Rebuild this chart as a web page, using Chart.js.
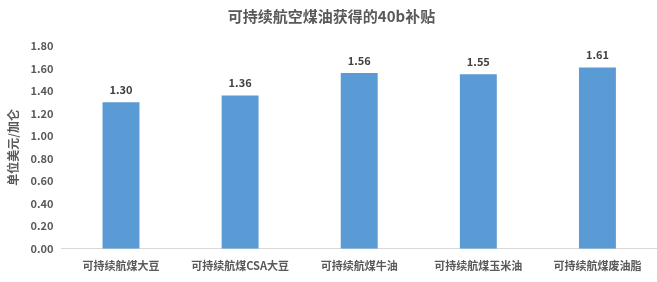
<!DOCTYPE html>
<html>
<head>
<meta charset="utf-8">
<script src="https://cdn.jsdelivr.net/npm/chart.js@4.4.1/dist/chart.umd.min.js"></script>
<style>
  html, body { margin: 0; padding: 0; background: #fff; }
  #wrap { width: 657px; height: 282px; }
</style>
</head>
<body>
<div id="wrap"><canvas id="myChart"></canvas></div>
<script>
// values
var categories = ['可持续航煤大豆', '可持续航煤CSA大豆', '可持续航煤牛油', '可持续航煤玉米油', '可持续航煤废油脂'];
var subsidy = [1.30, 1.36, 1.56, 1.55, 1.61];
var yTicks = [0, 0.2, 0.4, 0.6, 0.8, 1.0, 1.2, 1.4, 1.6, 1.8];

var fontName = '"Noto Sans CJK SC", "Liberation Sans", sans-serif';
var grey = '#595959';

// draws the value above each bar
var valueLabels = {
    id: 'valueLabels',
    afterDatasetsDraw: function(chart) {
        var ctx = chart.ctx;
        var meta = chart.getDatasetMeta(0);
        ctx.save();
        ctx.font = 'bold 11px ' + fontName;
        ctx.fillStyle = '#404040';
        ctx.textAlign = 'center';
        ctx.textBaseline = 'bottom';
        meta.data.forEach(function(bar, i) {
            ctx.fillText(subsidy[i].toFixed(2), bar.x, bar.y - 7);
        });
        ctx.restore();
    }
};

var ctx = document.getElementById('myChart').getContext('2d');
var myChart = new Chart(ctx, {
    type: 'bar',
    data: {
        labels: categories,
        datasets: [{
            label: '补贴',
            data: subsidy,
            backgroundColor: '#5b9bd5',
            borderWidth: 0,
            barPercentage: 0.62,
            categoryPercentage: 0.5
        }]
    },
    options: {
        responsive: true,
        maintainAspectRatio: false,
        animation: false,
        layout: { padding: { left: 6, right: 0, top: 2, bottom: 0 } },
        plugins: {
            legend: { display: false },
            tooltip: { enabled: false },
            title: {
                display: true,
                text: '可持续航空煤油获得的40b补贴',
                color: grey,
                font: { family: fontName, size: 15, weight: 'bold' },
                padding: { top: 5, bottom: 21 }
            }
        },
        scales: {
            x: {
                grid: { display: false, drawTicks: false },
                border: { color: '#d9d9d9', width: 1 },
                ticks: {
                    color: grey,
                    padding: 10,
                    maxRotation: 0,
                    autoSkip: false,
                    font: { family: fontName, size: 11, weight: 'bold' }
                }
            },
            y: {
                min: 0,
                max: 1.8,
                afterBuildTicks: function(axis) {
                    axis.ticks = yTicks.map(function(v) { return { value: v }; });
                },
                grid: { display: false, drawTicks: false },
                border: { display: false },
                title: {
                    display: true,
                    text: '单位美元/加仑',
                    color: grey,
                    font: { family: fontName, size: 12, weight: 'bold' },
                    padding: { top: 0, bottom: 2 }
                },
                ticks: {
                    color: grey,
                    padding: 8,
                    font: { family: fontName, size: 11, weight: 'bold' },
                    callback: function(v) { return v.toFixed(2); }
                }
            }
        }
    },
    plugins: [valueLabels]
});
</script>
</body>
</html>
